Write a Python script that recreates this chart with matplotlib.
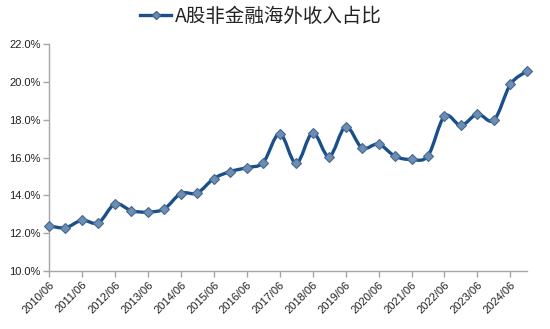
import numpy as np
import matplotlib.pyplot as plt
from matplotlib.path import Path
from matplotlib.patches import PathPatch
from matplotlib.lines import Line2D

plt.rcParams['font.family'] = ['Liberation Sans', 'Noto Sans CJK SC', 'DejaVu Sans']

# semi-annual periods 2010/06 .. 2024/12
periods = [f"{y}/{m}" for y in range(2010, 2025) for m in ("06", "12")]
share = [12.40, 12.29, 12.69, 12.55, 13.55, 13.19, 13.12, 13.29, 14.10, 14.13,
         14.89, 15.26, 15.47, 15.74, 17.27, 15.69, 17.31, 16.05, 17.63, 16.51,
         16.71, 16.07, 15.90, 16.10, 18.19, 17.70, 18.30, 17.98, 19.87, 20.57]
yticks = [10, 12, 14, 16, 18, 20, 22]
title = "A股非金融海外收入占比"

line_col = "#1a4f8b"
mk_face = "#6d8db3"
mk_edge = "#46698f"

x = np.arange(len(share))
y = np.array(share)

fig = plt.figure(figsize=(5.5, 3.29), dpi=100)
ax = fig.add_axes([0.089, 0.176, 0.869, 0.690])

# smooth line like excel (catmull-rom as bezier segments)
verts = [(x[0], y[0])]
codes = [Path.MOVETO]
t = 1 / 6
for i in range(len(x) - 1):
    p0 = (x[max(i - 1, 0)], y[max(i - 1, 0)])
    p1 = (x[i], y[i])
    p2 = (x[i + 1], y[i + 1])
    p3 = (x[min(i + 2, len(x) - 1)], y[min(i + 2, len(x) - 1)])
    c1 = (p1[0] + (p2[0] - p0[0]) * t, p1[1] + (p2[1] - p0[1]) * t)
    c2 = (p2[0] - (p3[0] - p1[0]) * t, p2[1] - (p3[1] - p1[1]) * t)
    verts += [c1, c2, p2]
    codes += [Path.CURVE4] * 3
ax.add_patch(PathPatch(Path(verts, codes), facecolor="none", edgecolor=line_col,
                       lw=2.4, capstyle="round", joinstyle="round", zorder=2, clip_on=False))
ax.plot(x, y, ls="none", marker="D", ms=4.8, mfc=mk_face, mec=mk_edge, mew=0.8,
        zorder=3, clip_on=False)

ax.set_xlim(0, len(share) - 1)
ax.set_ylim(10, 22)
ax.set_yticks(yticks)
ax.set_yticklabels([f"{v:.1f}%" for v in yticks], fontsize=8, color="#222222")
ax.set_xticks(x[::2])
ax.set_xticklabels(periods[::2], rotation=45, ha="right", rotation_mode="anchor",
                   fontsize=8, color="#222222")
for s in ("top", "right"):
    ax.spines[s].set_visible(False)
for s in ("left", "bottom"):
    ax.spines[s].set_color("#a6a6a6")
    ax.spines[s].set_linewidth(1.0)
ax.tick_params(axis="both", direction="out", length=4, color="#a6a6a6", width=1.0, pad=2)

handle = Line2D([], [], color=line_col, lw=2.4, marker="D", ms=4.5, mfc=mk_face, mec=mk_edge)
leg = fig.legend([handle], [title], loc="center", bbox_to_anchor=(0.475, 0.95), frameon=False,
                 prop={"family": ["Noto Sans CJK SC", "DejaVu Sans"], "size": 14},
                 handlelength=1.6, handletextpad=0.2)
for txt in leg.get_texts():
    txt.set_color("#222222")

fig.savefig("out.png", dpi=100)
